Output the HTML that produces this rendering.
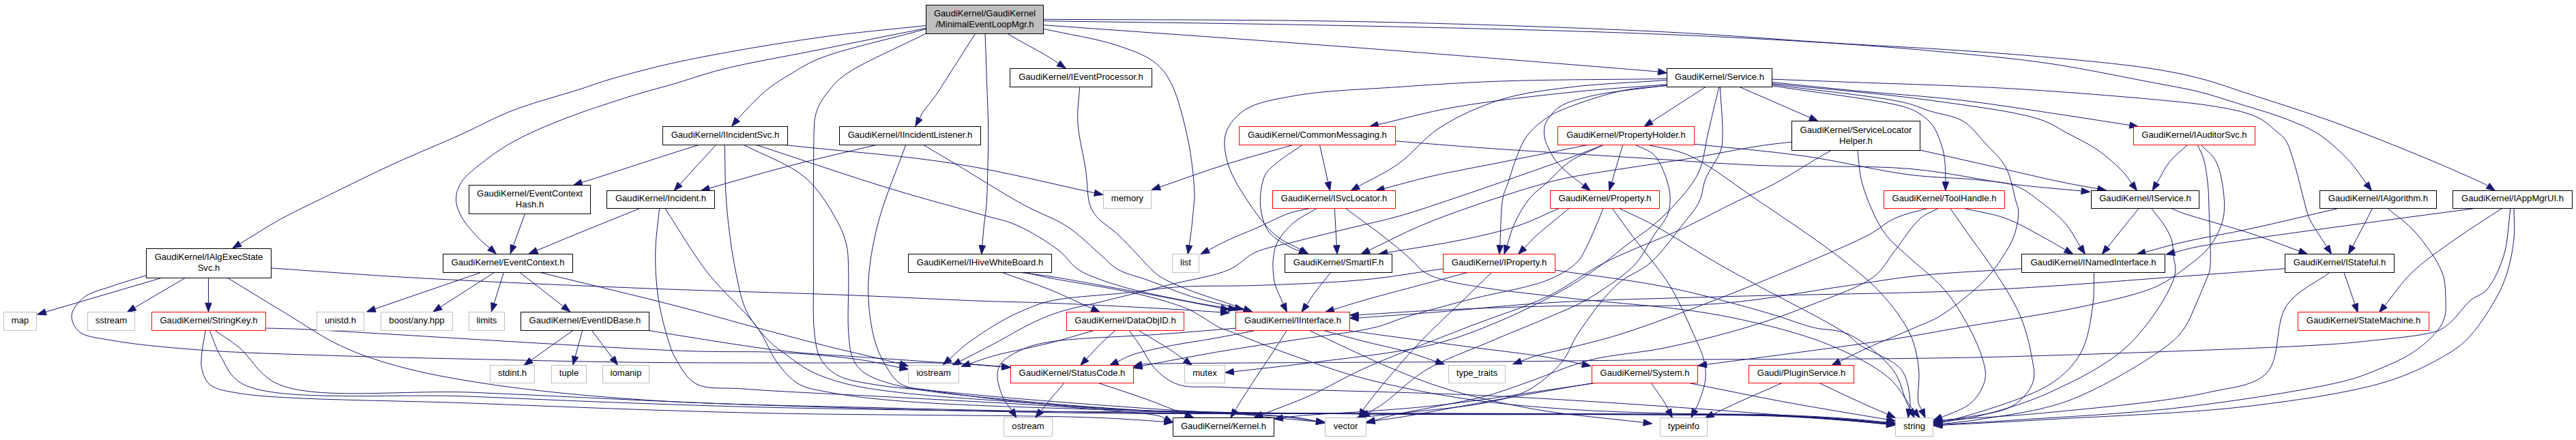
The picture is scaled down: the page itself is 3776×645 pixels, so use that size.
<!DOCTYPE html><html><head><meta charset="utf-8"><style>html,body{margin:0;padding:0;background:#fff;width:3776px;height:645px;overflow:hidden}svg{display:block}text{font-family:"Liberation Sans",Arial,Helvetica,sans-serif;font-size:13.1px;fill:#000;text-anchor:middle}</style></head><body>
<svg width="3776" height="645" viewBox="0 0 3776 645">
<g fill="none" stroke="#191970" stroke-width="1">
<path d="M1357,37.5C1304.7,43.3 1255.5,47.1 1200,55C1136.7,64 1054.2,77.9 997.5,90C955.8,98.9 916.5,109.7 890,117.5C874.2,122.2 868.1,124.9 852.5,130C826.8,138.4 781.1,150.4 750,162.5C722.7,173.2 701.7,185.4 675,197.5C644.7,211.2 609.9,225.1 577.5,240C544.6,255.1 509,272.8 479,287.5C453.6,300 430.9,310.4 409,322.5C388.7,333.7 370.8,345.7 351.6,357.4"/>
<path d="M1357,41.4C1304.7,51.9 1250.8,62.7 1200,73C1152,82.7 1099.3,91.5 1060,101.3C1030.9,108.6 1006.9,117.5 985,123.8C968.1,128.7 954.5,132 940,136.3C926.2,140.4 915.4,143.7 900,148.8C878.8,155.8 849.4,165.3 825,175C801.1,184.5 775.2,195.2 755,206.3C738.4,215.4 724.8,224.6 711.5,235C698.8,244.9 683.5,255.8 676.5,266.8C671.2,275.1 668.5,283.8 668.5,292.3C668.5,300.8 672,309.2 676.5,317.7C682.1,328.3 694.2,341.4 702,349.6C707.6,355.5 712.5,358.9 717.8,363.5"/>
<path d="M1357,42.6C1304.7,57.2 1235.6,71.9 1200,86.3C1180.4,94.2 1168.9,102.6 1156.4,110C1146.6,115.8 1138.5,120.8 1130.9,126.4C1124.1,131.4 1119.3,135.6 1112.7,141.8C1104,150 1088.1,166.8 1083.6,171.8C1082.1,173.4 1081.8,174 1080.9,175.1"/>
<path d="M1529.5,36.7C1679.7,47.5 1829.9,57.8 1980,69.2C2130.1,80.6 2419.2,103.9 2430,105.1C2430.4,105.1 2430.4,105.2 2430.6,105.2"/>
<path d="M1529.5,42.3C1564.6,50.1 1605.6,56.2 1634.8,65.7C1656.8,72.9 1676.6,79.6 1690.7,90.1C1701.9,98.5 1708.4,106.4 1715.7,120C1726.9,140.8 1736.1,179.4 1742,208C1747.4,234.3 1750.6,269.3 1751,285C1751.2,291.9 1750.5,293.9 1750,300C1749.2,309.7 1747.6,326.6 1746.3,337.5C1745.3,345.9 1744.2,352.4 1743.1,359.8"/>
<path d="M769.4,313.5L752.5,360"/>
<path d="M1429.5,49.5C1416.6,69.7 1401.7,93.2 1390.9,110C1383.2,122 1377.6,131.4 1370.9,140.9C1364.9,149.4 1356.7,158.3 1352.7,164.5C1350.3,168.2 1349.4,170.6 1347.8,173.7"/>
<path d="M1477.3,49.5C1482.3,52.5 1486.1,54.8 1492.4,58.4C1502.9,64.4 1523.5,75.2 1534.3,81.7C1541.4,86 1545.8,89.2 1551.6,93"/>
<path d="M1529.5,28.3C1679.7,29.3 1829.9,28.4 1980,31.4C2130.1,34.4 2299.1,39.9 2430,46.3C2531.5,51.3 2623.1,59.1 2700,63.8C2757.3,67.3 2800,69.2 2850,72.5C2900,75.8 2950,79.2 3000,83.8C3050,88.4 3108.7,93.7 3150,100C3179.4,104.5 3200.2,108.6 3225,115C3250.2,121.5 3271.9,129.7 3300,138.8C3336.2,150.6 3380.7,164.3 3423.8,180C3471.9,197.5 3534.3,222.8 3575,240C3602.9,251.8 3638.6,267.8 3645,271.3C3646.1,271.9 3646.2,272.1 3646.8,272.5"/>
<path d="M1529.5,30.7C1679.7,33 1829.9,34.5 1980,37.7C2130.1,40.9 2299.1,44.7 2430,50C2531.5,54.1 2623.2,59.2 2700,64.3C2757.3,68.1 2800,71.6 2850,76.3C2900,81 2950.1,85.2 3000,92.5C3050.1,99.8 3108.6,112.1 3150,120C3179.3,125.6 3202.6,129.4 3225,135C3243.5,139.6 3256.5,144.3 3275,150C3298,157.2 3330.1,166.1 3352.5,175C3370.5,182.1 3385,187.6 3400,197.5C3416,208.1 3432.9,224.3 3445,237.5C3454.8,248.2 3460.8,258.7 3468.7,269.2"/>
<path d="M1444,49.5C1444.8,73 1445.7,96.5 1446.5,120C1447.3,143.4 1448.5,167.6 1448.7,190C1448.9,210.8 1448.3,230.9 1447.8,250C1447.4,267.4 1447.1,285.5 1446,300C1445.1,311.3 1443.4,320 1442.4,330C1441.4,340 1440.7,349.9 1439.8,359.8"/>
<path d="M1357.5,49C1317.7,69.3 1262,92.7 1238.2,110C1226.3,118.6 1221.1,125.5 1214.5,133.6C1208.6,140.7 1203.4,148.3 1200,155.5C1197.1,161.6 1195.6,167.7 1194.5,173.6C1193.5,179.1 1193.6,182.8 1193.3,190C1192.7,203.7 1192.7,228.6 1192.5,250C1192.3,274.8 1192.4,304.2 1192.4,330C1192.4,354.1 1192.3,375.4 1192.5,400C1192.7,427.5 1191,464.5 1193.8,487.5C1195.7,502.7 1196.6,514.4 1202.5,525C1208.1,535.1 1216.1,543.6 1227.5,550C1242.8,558.6 1268.1,561.3 1290,565C1313.7,569 1336.3,569.7 1365,572.5C1403.4,576.2 1450.6,580.9 1500,585C1560.1,590 1633.3,595.5 1700,600C1766.6,604.5 1862.9,607.4 1900,612C1914.5,613.8 1919.9,615.8 1929.9,617.6"/>
<path d="M1024,212.5C1008,217.6 992.7,222.3 976,227.7C957.6,233.6 934,241.3 918.2,246.5C907.1,250.1 900.1,252.5 890,255.7C878.4,259.4 865.1,263.6 852.6,267.6"/>
<path d="M1049.5,212.5L996.6,270.2"/>
<path d="M1062.2,212.5C1063.1,241.7 1062.5,269.9 1065,300C1067.7,332.3 1072.8,371.4 1078.8,400C1083.4,422 1086.5,440.5 1095,457.5C1103.1,473.6 1116.7,489 1127.5,500C1135.9,508.5 1143.2,513.2 1152.5,520C1163.6,528.1 1176.1,538.1 1190,545C1205,552.5 1221.4,557.7 1240,562.5C1262.3,568.2 1284.4,571.2 1315,575C1362.9,580.9 1437.1,585.4 1500,590C1565.3,594.8 1626.6,600.2 1700,603C1789.9,606.4 1892.8,605.3 2000,606C2123.8,606.8 2289.5,606.3 2400,607C2478.1,607.5 2544.8,607.3 2600,609C2639.1,610.2 2670.2,611.9 2700,614C2724.2,615.7 2743.8,617.9 2765.8,619.9"/>
<path d="M1090.6,212.5C1120.4,228.3 1156.7,240 1180,260C1200.3,277.5 1215.6,303.2 1226,322C1233.6,335.7 1238,346.9 1241,360C1243.9,372.9 1243.2,384.1 1243.8,400C1244.6,423.5 1241.9,464.5 1243.8,487.5C1245,502.7 1245.7,514.9 1250,525C1253.5,533.2 1257.4,539.2 1265,545C1276.1,553.5 1292.6,559.2 1315,565C1356.7,575.7 1437.1,581.7 1500,588C1565.3,594.5 1636,599.3 1700,603C1758.9,606.4 1827.9,606.5 1870,610C1895,612.1 1909.7,614.9 1929.5,617.4"/>
<path d="M1327.7,212.5C1314.6,249 1297.7,288.3 1288.5,322C1280.9,349.9 1276,376.8 1273.8,400C1272.1,418.4 1272.4,433.4 1273.8,450C1275.2,466.7 1278.3,485.6 1282.5,500C1285.8,511.5 1289.3,520.2 1295,530C1301.4,541 1308.8,555.4 1320,562.5C1331.8,570 1344,569 1365,572.5C1412.6,580.3 1511.2,592.2 1600,598C1715.6,605.5 1866.7,604.9 2000,606.5C2133.3,608.1 2289.5,606.8 2400,607.5C2478.1,608 2544.8,607.7 2600,609.5C2639.1,610.8 2670.2,612.8 2700,615C2724.2,616.7 2743.8,618.9 2765.8,620.9"/>
<path d="M966.6,305.5C964.6,327 961,348.2 960.7,370C960.4,392.2 961.7,415.6 965,437.5C968.2,458.9 974.9,484 980,500C983.3,510.4 984.9,516.2 990,525C996.8,536.7 1005.8,554.7 1020,562.5C1037.2,571.9 1060,567.6 1090,570C1143.7,574.4 1236.9,578 1315,582.5C1399.7,587.3 1509,592.4 1580,598C1627.9,601.8 1683.9,605.6 1700,610C1704.3,611.2 1705.2,612.4 1707.8,613.6"/>
<path d="M974.8,305.5C995.7,337 1014.6,370.6 1037.5,400C1059.8,428.7 1092,455.2 1110,480C1123.5,498.6 1128.9,518 1140,532.5C1149.3,544.6 1157.9,555.4 1170,562.5C1182.7,569.9 1196.9,571.4 1215,575C1241.6,580.3 1273,584 1315,587.5C1385.6,593.5 1496.9,596.8 1600,600C1722,603.7 1866.7,605.7 2000,607C2133.3,608.3 2289.5,607.3 2400,608C2478.1,608.5 2544.8,608.1 2600,610C2639.1,611.4 2670.2,613.8 2700,616C2724.2,617.8 2743.8,619.9 2765.8,621.9"/>
<path d="M397.5,393C465,397.6 523.8,402.4 600,406.8C698.7,412.4 830.2,418.1 940,422.5C1043.1,426.6 1150.1,429 1240,432.5C1313.4,435.3 1384.8,439.3 1440,441.3C1479,442.7 1501.3,442.7 1540,444.3C1593.4,446.4 1685.5,451.3 1730.9,453.9C1756.1,455.4 1770.1,456.5 1789.6,457.8"/>
<path d="M792.5,399.6C861.7,416.6 942.2,435.7 1000,450.7C1041.7,461.5 1071,470.3 1107.5,480C1145.2,490 1188.8,501.6 1222.5,510C1248.8,516.5 1275.2,522.2 1293,526.6C1303.9,529.3 1310.6,531.1 1319.4,533.3"/>
<path d="M951,484.5C967.3,487.2 979.2,489.3 1000,492.5C1036.4,498.2 1103.6,509.5 1150,514.7C1189.8,519.2 1230.2,521.1 1261.4,523.4C1284,525 1300.9,526 1320,527.3C1338.4,528.6 1356.7,530 1374,531.1C1389.9,532.1 1404.5,532.5 1420,533.5C1436,534.6 1452.4,536.1 1468.5,537.5"/>
<path d="M214.5,403.8C197.2,409.2 178.6,414.2 162.5,420C148.2,425.1 132.3,428.3 122.5,436.3C114.1,443.1 105.6,453.8 105,462.5C104.4,470.5 109.3,480.4 116.3,486.3C125.8,494.3 143.4,495.1 163,498.8C195.2,504.8 244.9,509.4 292.6,513C350.9,517.4 420.3,519 487.6,521.3C559.9,523.7 637.2,525.2 712.7,526.9C789.3,528.6 865.7,530.4 944,531.3C1024.7,532.2 1112.2,531.8 1190,532C1260.1,532.2 1338.6,530.8 1390,532.5C1422.3,533.6 1442.5,535.9 1468.7,537.7"/>
<path d="M236.3,407.5L66.8,457.4"/>
<path d="M271.3,407.5L197.3,451"/>
<path d="M305.5,407.5L305.5,444.2"/>
<path d="M333.8,407.5C362.5,425 391.9,443.1 420,460C446.7,476.1 471.3,493.7 498.5,506.5C525.2,519.1 550.2,527.6 581.4,536.3C619.8,547 662.6,554.9 712.7,562.5C778.8,572.5 858.5,580.4 944,586.2C1049.8,593.4 1177.9,594.8 1300,598C1429.4,601.4 1566.7,604.1 1700,605.5C1833.3,606.9 1976.2,606.1 2100,606.5C2207.2,606.8 2310.1,606.9 2400,607.5C2473.4,608 2544.8,607.6 2600,609.5C2639.1,610.9 2670.2,613.2 2700,615.5C2724.2,617.4 2743.8,619.7 2765.8,621.8"/>
<path d="M704.5,399.6L549.6,452.8"/>
<path d="M724.4,399.6C709.6,409.1 693.8,419.1 680,428C667.8,435.8 657.1,442.7 645.7,450.1"/>
<path d="M738.3,399.6L724.2,444.8"/>
<path d="M762.2,399.6L825.7,449.1"/>
<path d="M938,305.5C908.7,317.3 876.9,330 850,341C827.2,350.3 808,358.4 786.9,367.1"/>
<path d="M839.8,484.5L778.4,528.1"/>
<path d="M853.7,484.5L843.2,522.7"/>
<path d="M867.6,484.5L897.7,524.8"/>
<path d="M389.5,481C406.3,481.5 414.1,481.4 440,482.5C526.2,486.2 872.6,509.5 1000,514.3C1065.9,516.8 1103.8,514.4 1150,517C1189.9,519.2 1230.4,522.9 1261.4,527.4C1283.9,530.7 1300,535.1 1319.2,539"/>
<path d="M1840.9,484.3C1820.6,488.2 1800.7,492.3 1780,496C1758.7,499.8 1735.7,502.8 1715,507C1695.8,510.9 1674,515.2 1660,520C1650.8,523.2 1645.3,526.8 1637.9,530.2"/>
<path d="M1886.4,484.3C1879.3,495.4 1872.5,506.1 1865,517.5C1857,529.6 1848.1,542.7 1840,555C1832.3,566.8 1822.8,581.5 1817.5,590C1814.5,594.9 1812.9,597.7 1810.6,601.5"/>
<path d="M1919.1,484.3C1944.4,496.2 1972.9,509.9 1995,520C2011.9,527.7 2022.7,532.9 2040,540C2062.7,549.3 2089.8,560.9 2120,570C2157.8,581.4 2204.3,591.9 2250,600C2300.2,608.8 2356.1,613 2409.2,619.4"/>
<path d="M1939.6,484.3C1959.7,489.7 1979.9,495.5 2000,500.6C2020,505.7 2041.5,509.7 2060,515C2076.3,519.6 2090.2,525 2105.3,530"/>
<path d="M1978.4,484.7C1985.6,485.7 1989.6,486.3 2000,487.8C2027.5,491.6 2102.8,501.7 2150,508C2192.2,513.7 2238.8,518.8 2270,524C2290.1,527.4 2303,530.6 2319.5,534"/>
<path d="M1811.2,481.1C1774.1,484.1 1740.4,487 1700,490C1651.5,493.6 1575.4,495.2 1540,501C1522,504 1512.2,506.2 1500,511.6C1488.3,516.7 1474.1,524.2 1468,532C1463.7,537.5 1462.3,543.1 1462,550C1461.7,559.1 1466,572.9 1470,582C1473.4,589.7 1478.6,595.1 1483,601.7"/>
<path d="M1560,561.5C1553.3,569.3 1546.1,577.7 1540,585C1534.8,591.2 1530.5,596.7 1525.7,602.5"/>
<path d="M1610,561.5C1633.3,569.3 1657.8,577 1680,585C1700.4,592.4 1718.7,600.2 1738.1,607.7"/>
<path d="M1635,484.3C1628.3,490.4 1621.7,495.9 1615,502.5C1607.6,509.8 1600.1,518.3 1592.6,526.2"/>
<path d="M1603.8,484.3C1582.5,490.4 1558.9,497.7 1540,502.5C1525.2,506.3 1513.7,508.5 1500,511.6C1485.4,514.9 1468.9,518.1 1455,522C1442.8,525.4 1432.4,529.5 1421.2,533.2"/>
<path d="M1668.8,484.3C1684.2,493.7 1702.5,504.3 1715,512.5C1723.8,518.3 1729.7,522.9 1737.1,528.1"/>
<path d="M1655,484.3C1660,491.2 1664.5,497 1670,505C1677.4,515.6 1684.9,532.5 1695,542.5C1704.3,551.8 1714.2,559.4 1727.5,563.8C1744.4,569.4 1760.2,566.1 1790,567.5C1864.3,570.9 2056.5,574.2 2180,580C2292,585.3 2398.3,592.8 2500,600C2592.7,606.6 2677.2,614 2765.7,621"/>
<path d="M1468.8,399.4C1492.5,407.9 1517.4,415.9 1540,425C1561.2,433.6 1580.5,443.2 1600.8,452.3"/>
<path d="M1496,399.4C1510.7,401.4 1522,402.5 1540,405.3C1568.7,409.8 1612.2,418 1651.3,425.2C1695,433.3 1743.7,442.8 1789.8,451.6"/>
<path d="M1582.7,127.5C1581.7,144.7 1578.8,160.5 1579.8,179C1581,200.8 1588.5,228.4 1591.6,250C1594.2,268.1 1593.5,287.9 1597.5,300C1600,307.7 1602.5,311.5 1607.5,317.5C1614.8,326.3 1628.4,334.1 1640,345C1654.8,358.9 1677.4,385 1687.9,395C1692.7,399.6 1694.1,401.2 1699,404.5C1706.7,409.6 1717.3,414.6 1730.9,420.4C1753.5,430 1792.8,442 1823.7,452.8"/>
<path d="M1502,399.4C1514.7,402.2 1523.6,404.4 1540,407.7C1569.9,413.7 1631,422.2 1667.2,430.8C1694.7,437.3 1721.6,444.9 1738.8,452C1749.2,456.3 1754.8,460.4 1762.7,465C1770.8,469.7 1780,476.6 1787,480C1791.9,482.4 1793.7,482.4 1800,484.7C1816.8,490.9 1859.9,508.7 1892,520C1926.4,532.2 1960.7,544.7 2000,555C2045.6,566.9 2099.8,577.5 2150,585C2199.8,592.5 2249.9,596.5 2300,600C2349.9,603.5 2400,604.7 2450,606C2500,607.3 2555.1,606.6 2600,608C2636.7,609.2 2670.2,610.9 2700,613C2724.2,614.7 2743.8,616.9 2765.8,618.9"/>
<path d="M1108.9,212.5C1172.6,233.3 1241.1,257 1300,275C1350.1,290.4 1405.1,304.8 1440,315C1460.9,321.1 1472.9,322.4 1490,330C1510.2,338.9 1536.9,355.2 1552.5,367.5C1563.4,376.1 1569.4,386.8 1577.5,393C1583.7,397.7 1587.8,399.5 1595.7,403C1609,408.9 1630.1,416.1 1651.3,422C1678.7,429.6 1719.4,437.4 1746.8,442.7C1767.4,446.7 1782.9,448.8 1801,451.9"/>
<path d="M1354,212.5C1369.3,221.7 1381.7,229.1 1400,240C1426.9,256.1 1470,283.5 1500,300C1523.7,313 1545.4,319.6 1565,332.5C1583.6,344.8 1601.4,363.5 1615,375C1624.3,382.9 1628.9,389.4 1638.6,395C1650.6,401.9 1667,405 1683.2,410.9C1702.6,418 1725.4,428.1 1746.8,434.8C1767.9,441.4 1789.4,445.5 1810.7,450.9"/>
<path d="M2115.6,394C2077.1,399.3 2041.7,406 2000,410C1951.1,414.7 1888.3,416.8 1840,418.5C1800.2,419.9 1764.4,418.3 1730.9,420.4C1702.2,422.2 1680.1,426.1 1651.3,429.2C1617.3,432.9 1567.6,434.9 1540,441.1C1523.1,444.9 1512.7,449.6 1500,455C1487.8,460.2 1477.4,465.3 1465,472.5C1449.8,481.3 1429.2,494.9 1416,505C1406.3,512.5 1400,519.1 1392,526.2"/>
<path d="M2350,212.5C2333.3,218.9 2319.1,224.7 2300,231.8C2274.5,241.2 2239.2,253.6 2210.5,263.6C2183.9,272.9 2159.6,281.3 2133.5,290C2106.7,299 2078.1,309.1 2051.6,316.6C2027.1,323.6 2004.5,328 1980,334C1954.1,340.4 1924.7,347.4 1900,353.8C1878.5,359.4 1857.1,362.2 1840,370C1825.4,376.6 1818.3,387.9 1802.4,395C1780,405 1744.8,409.8 1715,417.3C1683.9,425.1 1648.5,433.9 1619.5,441.1C1595.2,447.1 1571.4,451.4 1552.5,457.5C1538,462.1 1528.8,466.1 1515,472.5C1497.1,480.9 1473.9,495 1455,505C1438.2,513.9 1423.1,521.4 1407.1,529.6"/>
<path d="M1920,305.5C1910,307.8 1901.1,308.8 1890,312.5C1875.2,317.5 1855.8,328.1 1840,335C1826,341.1 1812.1,346.3 1800,352C1789.6,356.9 1780.9,361.8 1771.4,366.7"/>
<path d="M1930,305.5C1918.3,312.8 1904.8,318.8 1895,327.5C1885.9,335.5 1877.3,345.5 1872.5,355C1868.4,363.1 1867.2,371.2 1866.3,380C1865.3,389.5 1866.5,402.7 1867.5,410C1868.1,414.3 1868.6,416 1870,420C1872.3,426.7 1877.5,437.2 1881.2,445.8"/>
<path d="M1956.3,305.5L1959.3,359.7"/>
<path d="M1972.5,305.5C1992,320 2013.9,335.5 2031,349C2044.9,360 2057.8,370.8 2068,380C2075.7,386.9 2079.9,393.9 2087.5,398.8C2095.5,404 2103.7,406.6 2115,410C2131.9,415 2155,418.6 2180,422.5C2213.8,427.8 2254,431.6 2300,437C2362.3,444.3 2452.9,449.3 2520,462C2578,473 2635.2,486.9 2680,505C2715.3,519.3 2749.2,536.9 2770,555C2784.5,567.6 2793.8,587 2800,595C2802.7,598.5 2804,600 2806,602.5"/>
<path d="M2443,115.5C2362,116.7 2271.3,116.5 2200,119C2144,121 2100,124 2050,127.5C2000,131 1941.1,132.6 1900,140C1870.4,145.3 1842.8,149.4 1825,161C1811.6,169.7 1801.2,181.9 1797,195C1792.7,208.2 1795.5,224.4 1800,240C1805.5,259.1 1820.3,282 1832.5,300C1843.8,316.7 1856.5,333.6 1870,345C1881.5,354.7 1894.6,359.1 1906.9,366.1"/>
<path d="M2443,117.5C2395.3,121 2343.3,122.5 2300,128C2263.6,132.6 2231.8,136 2200,146C2168.5,155.9 2135.9,170.7 2110,187.5C2086.7,202.6 2070.7,225.3 2050,240C2031,253.5 2010.8,262.2 1991.1,273.3"/>
<path d="M2443,123.8C2397,127.5 2353.7,129.9 2305,135C2250.1,140.8 2181.4,148.3 2130,157.5C2088.9,164.8 2056.7,174.3 2020,182.6"/>
<path d="M2443,125C2405.3,130.4 2358.9,134.1 2330,141.3C2311.3,146 2296.2,149.5 2285,157.5C2275.8,164.1 2268.1,174.4 2265,182.5C2262.7,188.5 2263.3,194.8 2263.9,200C2264.4,204.3 2265.5,207 2267.3,211.4C2270,218 2274.7,227.8 2280,235C2285.5,242.4 2293,248.8 2300,255C2306.8,261 2314.1,266.1 2321.2,271.6"/>
<path d="M2443,125.5C2422,127.8 2401.7,128.1 2380,132.5C2355.9,137.4 2325.5,147.2 2305,155C2290.1,160.7 2278.8,164.9 2267.5,172.5C2256.4,180 2245.4,189.5 2237.7,200C2230.3,210.1 2226.4,222.5 2221.8,234C2217.3,245.3 2213.9,258.1 2210.5,268.2C2207.8,276.3 2204.9,280.5 2203,290C2199.7,306.5 2200.1,336.5 2198.7,359.7"/>
<path d="M2350,212.5C2333.3,220.8 2314.3,227.5 2300,237.5C2287.2,246.4 2277.5,258.9 2267.3,268.2C2258.6,276.1 2250.3,281.1 2242.9,290C2234.3,300.3 2225.8,315.1 2220,327.5C2214.9,338.5 2212.7,349.4 2209,360.4"/>
<path d="M2300,305.5C2284.2,318.7 2264.4,334.1 2252.5,345C2244.8,352.1 2240.5,357.2 2234.5,363.4"/>
<path d="M2285,305.5C2265.2,314 2247.2,323.6 2225.5,330.9C2200.7,339.2 2173.1,345.2 2143.7,351.4C2109.8,358.5 2070.2,364 2033.5,370.3"/>
<path d="M2626.6,208C2611.1,209.9 2598.6,211 2580,213.8C2552,218 2514.5,225.9 2475,232.5C2424.1,241.1 2338.2,252.5 2300,260.2C2281.2,264 2274.8,265.8 2258.2,270.5C2233.2,277.5 2195,289.7 2165,300C2136.5,309.8 2109,319.6 2082.3,330.9C2056.2,341.9 2031.8,355 2006.6,367"/>
<path d="M2327,212.5C2284.7,221 2239.8,230 2200,238C2164.7,245.1 2130.4,251 2100,258C2074.1,263.9 2052.5,270.3 2028.7,276.4"/>
<path d="M2378.8,212.5L2362.5,267.2"/>
<path d="M1934.5,212.5L1946.7,267.1"/>
<path d="M1895,212.5C1863.3,221.7 1832,229.9 1800,240C1767,250.4 1733.3,262.8 1700,274.2"/>
<path d="M1150,212.5C1233.3,221.7 1321.1,227.4 1400,240C1471.9,251.4 1536.3,268.5 1604.5,282.8"/>
<path d="M2045.5,206.8C2089.1,210.2 2126.9,213.5 2176.4,217C2241,221.6 2329.5,226.9 2400,231.3C2463.2,235.3 2517,239.8 2580,242.5C2649.6,245.5 2733.8,241.8 2800,247.5C2854.9,252.2 2904.9,264.4 2950,270C2986.9,274.6 3017.4,276.7 3051.1,280"/>
<path d="M2500,127.5L2420.8,178.6"/>
<path d="M2550,127.5L2653.3,172.4"/>
<path d="M2597.5,116.1C2631.7,117.4 2658.3,118.4 2700,120C2765.1,122.5 2868.9,125.2 2950,130C3027,134.5 3122.6,142.4 3175,147.5C3203.2,150.2 3219.8,151.8 3240,155C3257.8,157.8 3276.3,160.9 3290,165C3299.9,167.9 3307.5,170.7 3315,175C3322,179.1 3327.9,184.9 3333.8,190C3339.5,194.9 3345.5,198.4 3350,205C3355.6,213.3 3358.5,225.3 3362.5,237.5C3367.4,252.8 3372.1,275 3376.3,290C3379.5,301.4 3380.9,310.7 3385,320C3388.9,329 3395.4,337.5 3400,345C3403.8,351.2 3407.1,356.1 3410.6,361.7"/>
<path d="M2597.5,120.5C2638.3,124.7 2680.3,129.3 2720,133C2757.6,136.5 2798.9,139.4 2830,142.4C2853,144.6 2866.4,145.8 2890,148.8C2924.1,153.1 2975,161 3015,167C3052,172.6 3086.2,178 3121.9,183.5"/>
<path d="M2597.5,122.5C2675,130.7 2759.9,137.3 2830,147.1C2888.5,155.3 2955,163.5 2990,175C3008.4,181.1 3016.4,187.8 3030,195C3044.6,202.7 3061.1,210.3 3075,220C3088.6,229.5 3103.7,243 3112.5,252.5C3118.2,258.6 3120.8,263.6 3124.9,269.2"/>
<path d="M2597.5,124C2661.7,132.7 2750.1,140.8 2790,150C2808.6,154.3 2816.1,158.7 2830,163.1C2845.1,167.9 2864,169.4 2877.5,177.5C2890.5,185.3 2899.6,198.8 2910,210C2920.4,221.3 2932.6,231.4 2940,245C2947.9,259.5 2951.7,283.2 2955,295C2956.8,301.4 2958.6,303.9 2958.8,310C2959.1,319.2 2956.4,333.8 2952.5,345C2948.5,356.4 2941.8,366.9 2935,377.5C2927.8,388.6 2921.2,398.6 2910,410C2894.1,426.3 2864.4,450.4 2845,462.5C2831.4,471 2822,473.5 2807.5,480C2787.8,488.8 2757.6,500.8 2737.5,510C2721.9,517.1 2710.2,523.3 2696.5,529.9"/>
<path d="M2597.5,125.7C2661.7,135.9 2756.3,146.3 2790,156.3C2802.6,160.1 2807.6,162.6 2815,167.5C2822.2,172.2 2828.8,178.1 2833.8,185C2838.9,192.2 2842.2,202 2845,210C2847.4,216.9 2848.9,222.7 2850,230C2851.3,238.4 2851.6,250.8 2851.8,257.5C2851.9,261.4 2851.8,263.6 2851.8,266.7"/>
<path d="M2520,127C2517.5,137.2 2515.1,146.8 2512.5,157.5C2509.7,169.3 2507.1,181.2 2503.8,195C2499.8,212.1 2497.8,235.5 2490,252.5C2482.6,268.5 2470.6,282 2459.4,295C2448.4,307.7 2436.3,319 2423.6,329.8C2410.8,340.8 2395.3,350.7 2382.7,360.4C2371.7,369 2363.8,376.3 2352,385C2337.1,395.9 2320.6,408 2300,420C2272.5,436 2233.8,455.7 2200,470C2167.1,483.9 2139,495.4 2100,505C2048.2,517.8 1968.3,525.5 1915,532.5C1874.6,537.8 1843.8,540.7 1808.2,544.8"/>
<path d="M2521.3,127C2522.5,149.7 2525.4,177.9 2525,195C2524.8,205.4 2525.3,210.9 2522.5,220C2518.7,232.6 2505.3,249 2500,262.5C2495.5,273.8 2496.2,284.3 2491.1,295C2485.1,307.4 2474.8,318.6 2464.5,331.8C2451.7,348.1 2436,370.4 2419.5,385C2404.3,398.5 2386,402.9 2370,417.5C2350,435.8 2326.7,468.9 2312.5,490C2302.5,504.9 2300.5,517.4 2290,530C2277.5,545 2258.6,562 2240,572C2221.8,581.8 2203.7,585 2180,590C2147.1,596.9 2093,601.2 2060,605C2036.8,607.6 2020.5,609.1 2000.7,611.1"/>
<path d="M2416.3,212.5C2435.9,217.5 2453.7,218.2 2475,227.5C2504.9,240.6 2540,268.9 2575,292.5C2614.6,319.2 2666.9,354.1 2700,380C2723.4,398.3 2740.7,411.5 2757.5,430C2774,448.2 2790.8,470.1 2800,490C2807.7,506.7 2810.5,523.2 2812.5,540C2814.5,556.5 2809.8,579.6 2812,590C2813.1,595.1 2815.2,597.2 2816.8,600.8"/>
<path d="M2483.5,211.3C2537.3,217.1 2591.8,221.2 2645,228.8C2697.3,236.3 2753.8,250.5 2800,256.3C2836.8,260.9 2871.7,260.5 2900,263.8C2921.1,266.3 2939.3,266.5 2955,272.5C2968.6,277.7 2978.4,286.3 2990,295C3002.6,304.5 3017.3,315.7 3027.5,327.5C3036.7,338.1 3042.1,350.3 3049.4,361.7"/>
<path d="M2397.5,212.5C2406.7,217.5 2417.5,219.5 2425,227.5C2434.2,237.2 2441.4,257.4 2445,270C2447.7,279.2 2448.4,287.1 2448.1,295C2447.8,302.2 2447,308.2 2444,315.4C2440,325 2430.6,335.2 2423.6,346.1C2415.7,358.3 2408.5,374 2399.1,385C2390.5,395 2381.3,401.5 2370,410C2355.9,420.6 2337,433.2 2320,442.5C2303.7,451.4 2289.2,456.7 2270,465C2244.4,476.1 2209.9,489.6 2180,502.5C2149.9,515.4 2116.1,526.7 2090,542.5C2067,556.4 2045.8,578.8 2030,590C2020.3,596.9 2013.9,600.3 2005.8,605.5"/>
<path d="M2814.5,220C2851.3,228.3 2889.1,236.9 2925,245C2959.2,252.7 2997.4,261.8 3025,267.5C3044.5,271.5 3058.3,273.6 3074.9,276.7"/>
<path d="M2685,220C2679.2,223.3 2675.2,225.5 2667.5,230C2652.3,238.8 2621.5,258.7 2600,270C2581.3,279.8 2566,285.5 2546.3,295C2521.8,306.8 2494.1,322 2464.5,335.9C2430.2,352 2386,367.5 2352,385C2322,400.4 2300.6,418.9 2270,433.8C2234.4,451.1 2192.2,463.4 2150,480C2102.7,498.6 2041.9,521.2 2000,540C1968.8,554 1946.1,568.4 1920,580C1896.1,590.7 1873.1,598.5 1849.7,607.7"/>
<path d="M2722.8,220.5C2725.2,237 2724.9,252.4 2730,270C2736.4,292 2749.2,322.5 2762,341C2772,355.5 2783.3,363 2796,375C2811.1,389.4 2833.2,405.5 2847,421C2858.6,433.9 2866.2,445.4 2875,460C2885.1,476.8 2897.2,499.6 2903,517C2907.5,530.6 2912,542.9 2910,555C2907.9,567.3 2899.6,580.9 2890,590C2879.9,599.6 2856.5,607.2 2850,610C2848,610.9 2847.3,611 2846,611.5"/>
<path d="M3206.3,212.5C3197.5,220.8 3187.5,228.2 3180,237.5C3172.6,246.8 3167.7,258.2 3161.5,268.5"/>
<path d="M3226.3,212.5C3233.4,220 3242.2,225.5 3247.5,235C3253.8,246.3 3256.9,263.2 3258.8,277.5C3260.6,291.5 3261.8,306.4 3258.8,320C3255.7,333.9 3249,347.9 3240,360C3230.2,373.2 3214.4,384.7 3200.6,395C3187.1,405 3176.2,413.4 3158.2,421.1C3131.7,432.5 3093.2,440.4 3053.8,449.1C3003.4,460.2 2931.9,470.1 2880,479C2837.9,486.2 2811.7,491.5 2765.7,498.6C2695.9,509.3 2501.4,534.3 2501.4,534.3C2501.4,534.3 2501.5,534.3 2501.5,534.3"/>
<path d="M3221.3,212.5C3224.2,219.2 3227.7,224.6 3230,232.5C3233.1,242.9 3235,257.7 3236.3,270C3237.6,281.8 3237.5,290.6 3238,305C3238.7,328 3241.8,379.3 3239.3,395C3238.4,400.8 3237.3,401.7 3235.4,406.6C3232.1,415.4 3225.4,431.1 3220,443.3C3214.5,455.6 3209.9,469.3 3202.6,480C3195.7,490 3190.6,496.1 3177.8,506C3150.3,527.3 3081.6,568.8 3032.9,587C2988.9,603.5 2934.4,609.3 2900,615C2878.3,618.6 2864.5,619.3 2846.7,621.5"/>
<path d="M2878.8,305.5C2899.2,310.3 2921,313.1 2940,320C2957.9,326.5 2974.6,336.8 2990,345C3003.5,352.2 3015.1,359.1 3027.6,366.2"/>
<path d="M2825,305.5C2809.2,310.3 2792,313.3 2777.5,320C2763.8,326.3 2755.2,335.6 2740,343.8C2718.6,355.3 2690.5,366.8 2660,380C2620,397.3 2567.3,419.2 2520,437.5C2472.3,455.9 2415.7,477.2 2375,490C2346.1,499.1 2322.5,504.3 2300,510C2281.7,514.6 2262.9,518.1 2250,522C2241.6,524.5 2236.4,527 2229.5,529.4"/>
<path d="M2841.3,305.5C2832.5,310.3 2823.8,312.6 2815,320C2802.5,330.6 2789.3,352.6 2777.5,367.5C2767,380.8 2761.9,393.8 2747.5,405C2727.1,420.9 2690.4,432.7 2660,445C2628.1,457.9 2595.1,469.5 2560,480C2522.1,491.4 2479.3,501.9 2440,510C2402.7,517.7 2364.5,519.1 2330,528C2298.1,536.2 2267,550.7 2240,560C2218,567.6 2201.6,574.1 2180,580C2155.4,586.7 2124.8,591.9 2100,597C2078.6,601.4 2055.7,605.1 2040,609C2029.7,611.6 2023.1,614 2014.7,616.5"/>
<path d="M2858.8,305.5C2869.2,320.3 2879.7,335.4 2890,350C2900.1,364.2 2909.6,376.1 2920,392C2932.8,411.7 2950.3,437.8 2960,460C2968.4,479.3 2973.8,499.2 2977,517C2979.8,532.2 2984.2,547.2 2980,560C2975.6,573.3 2963.9,586.5 2950,595C2932.7,605.6 2899.1,608.4 2880,612C2866.9,614.4 2857.8,614.9 2846.7,616.3"/>
<path d="M3135,305.5L3089.3,362.5"/>
<path d="M3182.5,305.5C3188.3,307.8 3191.7,309.6 3200,312.5C3219.6,319.3 3269.7,332.5 3300,342.5C3325.7,351 3347,359.6 3370.5,368.1"/>
<path d="M3153.5,305.5C3160,314 3167.8,322.7 3172.9,330.9C3177.2,337.9 3180.9,344 3183.1,351.3C3185.3,358.7 3185.3,366.6 3186,375C3186.8,384.4 3190.9,392.8 3187.5,405C3180.7,429.6 3149.3,478 3119.9,506C3088.9,535.5 3042.5,557.8 3003.9,575.5C2969.2,591.4 2929.2,602.8 2900,610C2879.5,615.1 2864.4,615.9 2846.6,618.9"/>
<path d="M3427.5,305.5C3385,315.3 3340,326.4 3300,335C3264.7,342.6 3228.4,348.4 3200,355C3178.7,359.9 3162.9,364.7 3144.4,369.6"/>
<path d="M3477.5,305.5C3473.3,313.7 3469.5,321.4 3465,330C3459.9,339.8 3454,350.8 3448.5,361.2"/>
<path d="M3500,305.5C3513.3,317 3527.6,325.9 3540,340C3554.5,356.5 3573,381.2 3580,400C3585.2,414 3584.6,428.3 3585,440C3585.3,449.1 3585.7,456.9 3583.6,464.5C3581.5,471.9 3578.2,478 3572.7,485C3564.8,495 3551.4,507 3537.3,516.4C3520.6,527.5 3496.3,537.5 3477.3,545C3461.1,551.5 3452.5,554.8 3430.9,560C3383.5,571.4 3278.7,587.7 3200,597C3118.5,606.6 3015.2,611.6 2950,616C2908.1,618.9 2881.2,620.2 2846.8,622.2"/>
<path d="M3627.5,305.5C3585,311.2 3547.3,316.1 3500,322.5C3440.8,330.5 3351.6,342.6 3300,350C3267.3,354.7 3240.7,357.9 3220,362C3206.7,364.6 3198.3,367.3 3187.4,370"/>
<path d="M3667.5,305.5C3645,320.3 3622,334.3 3600,350C3577.8,365.8 3553.1,382.4 3535,400C3519.2,415.3 3508.7,432.1 3495.6,448.1"/>
<path d="M3685,305.5C3685,320.3 3686.5,334.8 3685,350C3683.4,366.3 3679.9,384.5 3675,400C3670.5,414.3 3665.3,425.9 3657.3,440C3647.1,457.9 3631,482.6 3616.3,497.3C3604.3,509.3 3593.9,515.6 3578.2,524.5C3556.6,536.7 3530.3,549.8 3496.4,560C3445.7,575.3 3372.6,586.1 3300,595C3210.8,605.9 3083.4,610 3000,615C2940.4,618.6 2897.9,620.5 2846.8,623.3"/>
<path d="M2963.3,393.8C2913.9,397.1 2861.2,399 2815,403.8C2774.2,408 2742.6,414 2700,420C2646.7,427.5 2585.1,440 2520,445C2443.7,450.9 2345.3,446.9 2270,448.8C2207.9,450.4 2150.5,452.5 2100,455C2059.3,457 1990,461.8 1990,462C1990,462 1990.8,462 1991.2,462"/>
<path d="M3069.5,398.8C3068.9,415.2 3070.2,430.3 3067.7,448C3064.6,469.3 3061.1,497.9 3050,517.5C3039.4,536.2 3025.6,550.2 3003.9,564C2970.6,585.2 2881,610.4 2859,616C2852.7,617.6 2850.8,617.3 2846.6,618"/>
<path d="M3349,393.8C3299.3,397.5 3257.9,400.8 3200,405C3119.3,410.8 3013.9,420.1 2910,425C2789.7,430.7 2635.6,431.5 2520,435C2427.4,437.8 2345.3,439.3 2270,443.8C2207.8,447.5 2150.5,454 2100,458C2059.4,461.2 1990,466 1990,466.3C1990,466.3 1990.8,466.3 1991.2,466.3"/>
<path d="M3435.8,399L3451.9,445.9"/>
<path d="M3415.5,399C3394.2,415.3 3367,425.7 3351.7,448C3334.4,473.2 3343.3,525.3 3322.8,546.5C3303.5,566.5 3272.4,567.2 3235.8,575.5C3176.9,588.9 3069.8,598.1 3000,605C2944.4,610.5 2863.1,614.3 2850,616C2848,616.3 2847.7,616.4 2846.6,616.6"/>
<path d="M2151.8,399.3C2101.2,412.9 2035.7,429.8 2000,440C1980.4,445.6 1969.8,449.2 1954.7,453.8"/>
<path d="M2279.4,396C2334.6,404.4 2391.4,410.3 2445,421.3C2496.5,431.9 2555.9,448.7 2595,460C2620.4,467.3 2637.4,474.9 2657.5,480C2675.6,484.6 2692.6,481.9 2710,490C2731.8,500.1 2760.7,523.5 2775,542.5C2786.2,557.4 2790.3,579.8 2795,590C2797.3,595 2798.6,597.3 2800.4,601"/>
<path d="M2363.3,305.5C2373.2,319 2382.8,332.8 2392.9,346.1C2402.9,359.3 2413.9,372 2423.6,385C2432.9,397.5 2441.3,407.8 2450,422.5C2461.1,441.3 2474,470.7 2482.5,490C2488.8,504.2 2494.7,515.8 2497.5,527.5C2499.8,537.2 2500.9,545.4 2500,555C2499,566.1 2493.2,581.7 2490,590C2488.1,594.8 2486.4,597.4 2484.5,601.1"/>
<path d="M2373.5,305.5C2390.2,313.6 2404.6,319.5 2423.6,329.8C2449.9,344 2488.8,369.6 2515.6,385C2536,396.7 2547.7,402.8 2570,415C2605.4,434.4 2683.8,473.6 2707.5,490C2716.6,496.3 2717,499.3 2725,505C2739.1,515.2 2775.3,526.3 2787.5,542.5C2797.5,555.8 2799.4,580.1 2800,590C2800.3,594.5 2799.1,596.5 2798.7,599.8"/>
<path d="M2336.3,561.3C2290.9,569.2 2246.5,576.8 2200,585C2151.2,593.6 2082.6,606.8 2050,612C2034.3,614.5 2026.7,615.2 2015.1,616.8"/>
<path d="M2340,561.3C2260,572.5 2176.5,586.8 2100,595C2030.4,602.5 1931.9,606.7 1900,610C1889.9,611 1886.8,611.7 1880.2,612.6"/>
<path d="M2420,561.3C2426.7,570.9 2435.6,582.5 2440,590C2442.7,594.5 2443.7,597.4 2445.6,601.2"/>
<path d="M2475,561.3C2523.3,570.9 2571.5,581.1 2620,590C2668.5,598.9 2717.3,606.6 2765.9,614.9"/>
<path d="M2612.5,561.3C2590.8,570.9 2566.1,581.6 2547.5,590C2533.5,596.4 2523,601.5 2510.8,607.2"/>
<path d="M2666.3,561.3C2686.7,570.9 2709.3,581.7 2727.5,590C2742,596.6 2753.7,601.6 2766.8,607.3"/>
<path d="M301.3,484.5C299.3,496.9 296.1,511.2 295.4,521.7C294.9,529.3 294.3,535 296,541.6C297.9,548.9 300.6,557.9 307.3,563.5C316.4,571.1 329.2,572.9 351,576.6C411.2,586.7 577.3,586.7 697,591.3C826.2,596.3 958.4,601.8 1100,605.2C1257.7,609 1495.3,608.2 1600,612C1648,613.7 1696.6,617.7 1704.8,618.2C1705.9,618.3 1706,618.3 1706.6,618.3"/>
<path d="M307.3,484.5C312.6,496.9 315.8,509.4 323.2,521.7C331.7,535.8 336.1,552.9 357,563.5C409.5,590.3 578.8,576.1 697,581.4C825.6,587.2 965.9,592.9 1100,596.5C1233.6,600.1 1376.2,601.4 1500,603C1607.2,604.4 1735.6,602.6 1800,606C1830.7,607.6 1845.8,610.3 1867.9,612.4C1888.9,614.4 1908.9,616.2 1929.5,618"/>
<path d="M315.2,484.5C327.1,492.9 338,499.3 351,509.8C368.4,523.9 378.8,551 408.7,563.5C465.9,587.4 592.9,570.9 697,575.4C820.1,580.7 958.4,588.4 1100,593.3C1257.7,598.7 1433.3,603.5 1600,605.6C1766.7,607.7 1954.5,605.7 2100,606C2212.7,606.2 2310.1,606.4 2400,607C2473.4,607.5 2544.8,607.2 2600,609C2639.1,610.3 2670.2,612.3 2700,614.5C2724.2,616.3 2743.8,618.7 2765.8,620.8"/>
<path d="M3680,305.5C3676.7,328.7 3676.5,354.2 3670,375C3664.2,393.6 3654.9,413.9 3645,425C3638,432.8 3629.6,433.4 3621.8,440C3611.9,448.3 3601.2,464.8 3591.8,472.7C3585.1,478.3 3582.2,481.5 3572.7,485C3552.4,492.6 3500.1,496.5 3469,500C3443.7,502.9 3432.8,503.7 3400,505.7C3319.3,510.6 3090.5,518.6 2980,521.8C2907.9,523.9 2869.6,524.5 2801.4,525.4C2709.9,526.6 2583.4,526.3 2480,527.1C2383.4,527.9 2307.9,529.1 2200,530C2052.3,531.3 1691.2,531.9 1675,533.8C1674.2,533.9 1674.2,534 1673.8,534.1"/>
<path d="M2186.6,399.3C2174.4,411.2 2164,421.3 2150,435C2131,453.5 2103.6,478.4 2083,500C2063.9,520 2045,542.1 2030,560C2018.4,573.9 2003.9,592.2 2000,598C1998.9,599.6 1998.8,600.1 1998.2,601.2"/>
<path d="M2350,305.5C2347.3,312.2 2345.1,318 2341.8,325.7C2337.3,336.2 2331.1,351.9 2325.4,362.5C2320.8,371.1 2318.2,378.1 2311.1,385C2301.6,394.3 2288,402.5 2270,410C2241.1,422.1 2187.1,430.2 2150,440C2117.8,448.5 2084.8,457.4 2060,465C2042.3,470.4 2033.7,475.5 2015,480C1985.7,487.1 1937.9,492.1 1900,498C1862.9,503.8 1827,508.7 1790,515C1752,521.4 1682.2,534.8 1675,536.3C1674.3,536.5 1674.2,536.5 1673.8,536.6"/>
<path d="M1284,212.5C1239.3,223.3 1192.4,233.9 1150,245C1111.3,255.1 1076.4,265.7 1039.6,276"/>
<path d="M1908.9,212.5C1895.9,221.7 1879.8,231.5 1870,240C1863.2,245.9 1858,249.2 1854.3,256.8C1849.2,267.3 1846.5,286 1847.5,300C1848.5,313.7 1852.1,329.3 1860,340C1867.9,350.7 1886.7,359.6 1895,364C1899.2,366.2 1901.7,366.6 1905.1,367.9"/>
<path d="M1950.5,399.5C1943,409 1934.3,419.4 1928,428C1923,434.8 1919.5,440.6 1915.2,446.9"/>
</g><g fill="#191970" stroke="#191970" stroke-width="1">
<path d="M340.7,364L349.2,353.3L354.1,361.4Z"/>
<path d="M727.4,372L714.7,367.1L720.9,360Z"/>
<path d="M1072.7,185L1077.2,172.1L1084.5,178.1Z"/>
<path d="M2443.3,107L2430,109.8L2431.3,100.5Z"/>
<path d="M1741.3,372.5L1738.5,359.2L1747.8,360.5Z"/>
<path d="M748.1,372L748.1,358.4L756.9,361.6Z"/>
<path d="M1341.8,185L1343.7,171.5L1352,175.9Z"/>
<path d="M1562.3,100L1549,96.9L1554.2,89.1Z"/>
<path d="M3657.5,279.5L3644.2,276.4L3649.4,268.5Z"/>
<path d="M3476.3,279.5L3464.9,272L3472.4,266.4Z"/>
<path d="M1438.7,372.6L1435.1,359.4L1444.5,360.3Z"/>
<path d="M1942.5,620L1929.1,622.3L1930.8,613Z"/>
<path d="M840.4,271.5L851.2,263.1L854,272.1Z"/>
<path d="M988,279.6L993.2,267L1000.1,273.3Z"/>
<path d="M2778.5,621L2765.3,624.5L2766.2,615.2Z"/>
<path d="M1942.2,619L1928.9,622.1L1930.1,612.8Z"/>
<path d="M2778.5,622L2765.3,625.5L2766.2,616.2Z"/>
<path d="M1719.4,619L1705.8,617.9L1709.8,609.3Z"/>
<path d="M2778.5,623L2765.3,626.5L2766.2,617.2Z"/>
<path d="M1802.4,458.6L1789.3,462.5L1789.9,453.1Z"/>
<path d="M1331.8,536.5L1318.2,537.9L1320.6,528.8Z"/>
<path d="M1481.3,538.5L1468.2,542.1L1468.9,532.8Z"/>
<path d="M1481.5,538.5L1468.4,542.4L1469,533Z"/>
<path d="M54.5,461L65.5,452.9L68.1,461.9Z"/>
<path d="M186.3,457.5L194.9,447L199.7,455.1Z"/>
<path d="M305.5,457L300.8,444.2L310.2,444.2Z"/>
<path d="M2778.5,623L2765.3,626.5L2766.2,617.1Z"/>
<path d="M537.5,457L548.1,448.4L551.1,457.3Z"/>
<path d="M634.9,457L643.1,446.1L648.2,454Z"/>
<path d="M720.4,457L719.7,443.4L728.7,446.2Z"/>
<path d="M835.8,457L822.8,452.8L828.6,445.4Z"/>
<path d="M775.1,372L785.1,362.8L788.7,371.4Z"/>
<path d="M768,535.5L775.7,524.3L781.2,531.9Z"/>
<path d="M839.8,535L838.7,521.4L847.7,523.9Z"/>
<path d="M905.4,535L894,527.6L901.5,521.9Z"/>
<path d="M1331.8,541.5L1318.3,543.6L1320.2,534.4Z"/>
<path d="M1626.3,535.5L1636,525.9L1639.9,534.4Z"/>
<path d="M1804,612.5L1806.6,599.1L1814.6,603.9Z"/>
<path d="M2421.9,621L2408.6,624.1L2409.8,614.8Z"/>
<path d="M2117.5,534L2103.9,534.4L2106.8,525.5Z"/>
<path d="M2332,536.5L2318.5,538.6L2320.4,529.4Z"/>
<path d="M1490,612.4L1479,604.3L1486.9,599.1Z"/>
<path d="M1517.6,612.4L1522.1,599.5L1529.3,605.5Z"/>
<path d="M1750,612.4L1736.4,612.1L1739.8,603.4Z"/>
<path d="M1583.8,535.5L1589.2,523L1596,529.4Z"/>
<path d="M1409,537.2L1419.7,528.7L1422.6,537.6Z"/>
<path d="M1747.5,535.5L1734.3,531.9L1739.8,524.3Z"/>
<path d="M2778.5,622L2765.4,625.7L2766.1,616.3Z"/>
<path d="M1612.5,457.5L1598.9,456.6L1602.7,448Z"/>
<path d="M1802.4,454L1788.9,456.2L1790.7,447Z"/>
<path d="M1835.8,457L1822.2,457.2L1825.3,448.3Z"/>
<path d="M2778.5,620L2765.3,623.5L2766.2,614.2Z"/>
<path d="M1813.6,454L1800.2,456.5L1801.8,447.2Z"/>
<path d="M1823.1,454L1809.5,455.4L1811.8,446.3Z"/>
<path d="M1382.4,534.7L1388.9,522.7L1395.1,529.7Z"/>
<path d="M1395.7,535.5L1404.9,525.5L1409.2,533.8Z"/>
<path d="M1760,372.5L1769.2,362.5L1773.5,370.8Z"/>
<path d="M1886.3,457.5L1876.9,447.6L1885.5,443.9Z"/>
<path d="M1960,372.5L1954.6,360L1964,359.5Z"/>
<path d="M2814,612.5L2802.3,605.4L2809.7,599.6Z"/>
<path d="M1918,372.5L1904.6,370.2L1909.2,362.1Z"/>
<path d="M1980,279.6L1988.8,269.2L1993.5,277.4Z"/>
<path d="M2007.5,185.5L2018.9,178.1L2021,187.2Z"/>
<path d="M2331.3,279.5L2318.3,275.3L2324.1,267.9Z"/>
<path d="M2197.9,372.5L2194,359.4L2203.4,360Z"/>
<path d="M2205,372.5L2204.6,358.9L2213.5,361.8Z"/>
<path d="M2225.5,372.5L2231.1,360.1L2237.8,366.7Z"/>
<path d="M2020.9,372.5L2032.7,365.7L2034.3,375Z"/>
<path d="M1995,372.5L2004.5,362.8L2008.6,371.2Z"/>
<path d="M2016.3,279.6L2027.5,271.9L2029.9,281Z"/>
<path d="M2358.8,279.5L2358,265.9L2367,268.6Z"/>
<path d="M1949.5,279.6L1942.1,268.1L1951.3,266.1Z"/>
<path d="M1687.9,278.3L1698.5,269.7L1701.5,278.6Z"/>
<path d="M1617,285.4L1603.5,287.4L1605.4,278.2Z"/>
<path d="M3063.8,281.3L3050.6,284.7L3051.5,275.4Z"/>
<path d="M2410,185.5L2418.2,174.6L2423.3,182.5Z"/>
<path d="M2665,177.5L2651.4,176.7L2655.1,168.1Z"/>
<path d="M3417.5,372.5L3406.7,364.2L3414.6,359.2Z"/>
<path d="M3134.5,185.5L3121.1,188.2L3122.6,178.9Z"/>
<path d="M3132.5,279.5L3121.1,272L3128.7,266.4Z"/>
<path d="M2685,535.5L2694.5,525.7L2698.6,534.1Z"/>
<path d="M2851.8,279.5L2847.1,266.7L2856.5,266.7Z"/>
<path d="M1795.5,546.3L1807.7,540.2L1808.8,549.5Z"/>
<path d="M1988,612.4L2000.3,606.4L2001.2,615.8Z"/>
<path d="M2822,612.5L2812.5,602.7L2821.1,598.9Z"/>
<path d="M3056.3,372.5L3045.4,364.3L3053.4,359.2Z"/>
<path d="M1995,612.4L2003.2,601.5L2008.3,609.5Z"/>
<path d="M3087.5,279L3074.1,281.3L3075.8,272.1Z"/>
<path d="M1837.8,612.4L1848,603.3L1851.4,612.1Z"/>
<path d="M2834,616L2844.3,607.1L2847.6,615.9Z"/>
<path d="M3155,279.5L3157.5,266.1L3165.6,270.9Z"/>
<path d="M2488.8,536L2500.9,529.6L2502.1,538.9Z"/>
<path d="M2834,623L2846.1,616.8L2847.3,626.1Z"/>
<path d="M3038.8,372.5L3025.3,370.3L3030,362.1Z"/>
<path d="M2217.5,533.8L2227.9,525L2231.1,533.8Z"/>
<path d="M2002.4,620.2L2013.3,612L2016,621.1Z"/>
<path d="M2834,618L2846.1,611.7L2847.3,621Z"/>
<path d="M3081.3,372.5L3085.6,359.6L3093,365.5Z"/>
<path d="M3382.5,372.5L3368.9,372.5L3372.1,363.7Z"/>
<path d="M2834,621L2845.9,614.3L2847.4,623.5Z"/>
<path d="M3132,372.8L3143.2,365L3145.6,374.1Z"/>
<path d="M3442.5,372.5L3444.3,359L3452.6,363.4Z"/>
<path d="M2834,623L2846.5,617.5L2847.1,626.9Z"/>
<path d="M3175,373L3186.3,365.4L3188.5,374.5Z"/>
<path d="M3487.5,458L3492,445.1L3499.2,451.1Z"/>
<path d="M2834,624L2846.5,618.6L2847,628Z"/>
<path d="M1978.4,462L1991.2,457.3L1991.2,466.7Z"/>
<path d="M2834,620L2845.9,613.3L2847.4,622.6Z"/>
<path d="M1978.4,466.3L1991.2,461.6L1991.2,471Z"/>
<path d="M3456.1,458L3447.5,447.4L3456.4,444.4Z"/>
<path d="M2834,619L2845.7,612L2847.4,621.3Z"/>
<path d="M1942.5,457.5L1953.4,449.3L1956.1,458.3Z"/>
<path d="M2806,612.5L2796.2,603.1L2804.6,598.9Z"/>
<path d="M2478.9,612.6L2480.3,599L2488.8,603.2Z"/>
<path d="M2797,612.5L2794,599.2L2803.4,600.4Z"/>
<path d="M2002.4,618.5L2014.4,612.1L2015.7,621.4Z"/>
<path d="M1867.5,614.3L1879.6,608L1880.8,617.3Z"/>
<path d="M2451.3,612.6L2441.4,603.3L2449.8,599Z"/>
<path d="M2778.5,617L2765.1,619.5L2766.7,610.2Z"/>
<path d="M2499.2,612.6L2508.8,602.9L2512.8,611.4Z"/>
<path d="M2778.5,612.5L2764.9,611.6L2768.7,603Z"/>
<path d="M1719.4,619.2L1706.3,623L1707,613.6Z"/>
<path d="M1942.2,619.2L1929,622.7L1929.9,613.4Z"/>
<path d="M2778.5,622L2765.3,625.5L2766.2,616.1Z"/>
<path d="M1661.3,537L1672.7,529.5L1674.8,538.7Z"/>
<path d="M1992,612.4L1994.1,598.9L2002.3,603.5Z"/>
<path d="M1661.3,539.5L1672.7,532L1674.8,541.2Z"/>
<path d="M1027.3,279.5L1038.3,271.5L1040.9,280.6Z"/>
<path d="M1917,372.5L1903.4,372.3L1906.8,363.5Z"/>
<path d="M1908,457.5L1911.3,444.3L1919.1,449.5Z"/>
</g>
<rect x="1357.5" y="7.5" width="172" height="42" fill="#bfbfbf" stroke="#000000" stroke-width="1"/>
<text x="1443.5" y="24">GaudiKernel/GaudiKernel</text>
<text x="1443.5" y="40">/MinimalEventLoopMgr.h</text>
<rect x="1480.5" y="100.5" width="208" height="27" fill="#ffffff" stroke="#000000" stroke-width="1"/>
<text x="1584.5" y="116.6">GaudiKernel/IEventProcessor.h</text>
<rect x="2443.5" y="100.5" width="154" height="27" fill="#ffffff" stroke="#000000" stroke-width="1"/>
<text x="2520.5" y="116.6">GaudiKernel/Service.h</text>
<rect x="971.5" y="185.5" width="183" height="27" fill="#ffffff" stroke="#000000" stroke-width="1"/>
<text x="1063" y="201.6">GaudiKernel/IIncidentSvc.h</text>
<rect x="1230.5" y="185.5" width="207" height="27" fill="#ffffff" stroke="#000000" stroke-width="1"/>
<text x="1334" y="201.6">GaudiKernel/IIncidentListener.h</text>
<rect x="1816.5" y="185.5" width="229" height="27" fill="#ffffff" stroke="#ff0000" stroke-width="1"/>
<text x="1931" y="201.6">GaudiKernel/CommonMessaging.h</text>
<rect x="2283.5" y="185.5" width="200" height="27" fill="#ffffff" stroke="#ff0000" stroke-width="1"/>
<text x="2383.5" y="201.6">GaudiKernel/PropertyHolder.h</text>
<rect x="2626.5" y="177.5" width="188" height="43" fill="#ffffff" stroke="#000000" stroke-width="1"/>
<text x="2720.5" y="194.5">GaudiKernel/ServiceLocator</text>
<text x="2720.5" y="210.5">Helper.h</text>
<rect x="3127.5" y="185.5" width="178" height="27" fill="#ffffff" stroke="#ff0000" stroke-width="1"/>
<text x="3216.5" y="201.6">GaudiKernel/IAuditorSvc.h</text>
<rect x="687.5" y="271.5" width="178" height="42" fill="#ffffff" stroke="#000000" stroke-width="1"/>
<text x="776.5" y="288">GaudiKernel/EventContext</text>
<text x="776.5" y="304">Hash.h</text>
<rect x="889.5" y="279.5" width="158" height="26" fill="#ffffff" stroke="#000000" stroke-width="1"/>
<text x="968.5" y="295.1">GaudiKernel/Incident.h</text>
<rect x="1617.5" y="279.5" width="70" height="26" fill="#ffffff" stroke="#bfbfbf" stroke-width="1"/>
<text x="1652.5" y="295.1">memory</text>
<rect x="1865.5" y="279.5" width="180" height="26" fill="#ffffff" stroke="#ff0000" stroke-width="1"/>
<text x="1955.5" y="295.1">GaudiKernel/ISvcLocator.h</text>
<rect x="2272.5" y="279.5" width="160" height="26" fill="#ffffff" stroke="#ff0000" stroke-width="1"/>
<text x="2352.5" y="295.1">GaudiKernel/Property.h</text>
<rect x="2761.5" y="279.5" width="177" height="26" fill="#ffffff" stroke="#ff0000" stroke-width="1"/>
<text x="2850" y="295.1">GaudiKernel/ToolHandle.h</text>
<rect x="3065.5" y="279.5" width="158" height="26" fill="#ffffff" stroke="#000000" stroke-width="1"/>
<text x="3144.5" y="295.1">GaudiKernel/IService.h</text>
<rect x="3400.5" y="279.5" width="171" height="26" fill="#ffffff" stroke="#000000" stroke-width="1"/>
<text x="3486" y="295.1">GaudiKernel/IAlgorithm.h</text>
<rect x="3595.5" y="279.5" width="175" height="26" fill="#ffffff" stroke="#000000" stroke-width="1"/>
<text x="3683" y="295.1">GaudiKernel/IAppMgrUI.h</text>
<rect x="214.5" y="364.5" width="183" height="43" fill="#ffffff" stroke="#000000" stroke-width="1"/>
<text x="306" y="380.5">GaudiKernel/IAlgExecState</text>
<text x="306" y="396.5">Svc.h</text>
<rect x="649.5" y="372.5" width="190" height="27" fill="#ffffff" stroke="#000000" stroke-width="1"/>
<text x="744.5" y="388.6">GaudiKernel/EventContext.h</text>
<rect x="1331.5" y="372.5" width="210" height="27" fill="#ffffff" stroke="#000000" stroke-width="1"/>
<text x="1436.5" y="388.6">GaudiKernel/IHiveWhiteBoard.h</text>
<rect x="1718.5" y="372.5" width="39" height="27" fill="#ffffff" stroke="#bfbfbf" stroke-width="1"/>
<text x="1738" y="388.6">list</text>
<rect x="1883.5" y="372.5" width="157" height="27" fill="#ffffff" stroke="#000000" stroke-width="1"/>
<text x="1962" y="388.6">GaudiKernel/SmartIF.h</text>
<rect x="2115.5" y="372.5" width="164" height="27" fill="#ffffff" stroke="#ff0000" stroke-width="1"/>
<text x="2197.5" y="388.6">GaudiKernel/IProperty.h</text>
<rect x="2963.5" y="372.5" width="210" height="27" fill="#ffffff" stroke="#000000" stroke-width="1"/>
<text x="3068.5" y="388.6">GaudiKernel/INamedInterface.h</text>
<rect x="3349.5" y="372.5" width="160" height="27" fill="#ffffff" stroke="#000000" stroke-width="1"/>
<text x="3429.5" y="388.6">GaudiKernel/IStateful.h</text>
<rect x="5.5" y="457.5" width="48" height="27" fill="#ffffff" stroke="#bfbfbf" stroke-width="1"/>
<text x="29.5" y="473.6">map</text>
<rect x="128.5" y="457.5" width="69" height="27" fill="#ffffff" stroke="#bfbfbf" stroke-width="1"/>
<text x="163" y="473.6">sstream</text>
<rect x="222.5" y="457.5" width="167" height="27" fill="#ffffff" stroke="#ff0000" stroke-width="1"/>
<text x="306" y="473.6">GaudiKernel/StringKey.h</text>
<rect x="464.5" y="457.5" width="69" height="27" fill="#ffffff" stroke="#bfbfbf" stroke-width="1"/>
<text x="499" y="473.6">unistd.h</text>
<rect x="558.5" y="457.5" width="105" height="27" fill="#ffffff" stroke="#bfbfbf" stroke-width="1"/>
<text x="611" y="473.6">boost/any.hpp</text>
<rect x="687.5" y="457.5" width="52" height="27" fill="#ffffff" stroke="#bfbfbf" stroke-width="1"/>
<text x="713.5" y="473.6">limits</text>
<rect x="763.5" y="457.5" width="188" height="27" fill="#ffffff" stroke="#000000" stroke-width="1"/>
<text x="857.5" y="473.6">GaudiKernel/EventIDBase.h</text>
<rect x="1563.5" y="457.5" width="172" height="27" fill="#ffffff" stroke="#ff0000" stroke-width="1"/>
<text x="1649.5" y="473.6">GaudiKernel/DataObjID.h</text>
<rect x="1811.5" y="457.5" width="167" height="27" fill="#ffffff" stroke="#ff0000" stroke-width="1"/>
<text x="1895" y="473.6">GaudiKernel/IInterface.h</text>
<rect x="3368.5" y="457.5" width="192" height="27" fill="#ffffff" stroke="#ff0000" stroke-width="1"/>
<text x="3464.5" y="473.6">GaudiKernel/StateMachine.h</text>
<rect x="718.5" y="535.5" width="65" height="26" fill="#ffffff" stroke="#bfbfbf" stroke-width="1"/>
<text x="751" y="551.1">stdint.h</text>
<rect x="808.5" y="535.5" width="51" height="26" fill="#ffffff" stroke="#bfbfbf" stroke-width="1"/>
<text x="834" y="551.1">tuple</text>
<rect x="883.5" y="535.5" width="68" height="26" fill="#ffffff" stroke="#bfbfbf" stroke-width="1"/>
<text x="917.5" y="551.1">iomanip</text>
<rect x="1331.5" y="535.5" width="74" height="26" fill="#ffffff" stroke="#bfbfbf" stroke-width="1"/>
<text x="1368.5" y="551.1">iostream</text>
<rect x="1481.5" y="535.5" width="180" height="26" fill="#ffffff" stroke="#ff0000" stroke-width="1"/>
<text x="1571.5" y="551.1">GaudiKernel/StatusCode.h</text>
<rect x="1736.5" y="535.5" width="59" height="26" fill="#ffffff" stroke="#bfbfbf" stroke-width="1"/>
<text x="1766" y="551.1">mutex</text>
<rect x="2123.5" y="535.5" width="83" height="26" fill="#ffffff" stroke="#bfbfbf" stroke-width="1"/>
<text x="2165" y="551.1">type_traits</text>
<rect x="2333.5" y="535.5" width="155" height="26" fill="#ffffff" stroke="#ff0000" stroke-width="1"/>
<text x="2411" y="551.1">GaudiKernel/System.h</text>
<rect x="2563.5" y="535.5" width="154" height="26" fill="#ffffff" stroke="#ff0000" stroke-width="1"/>
<text x="2640.5" y="551.1">Gaudi/PluginService.h</text>
<rect x="1471.5" y="612.5" width="71" height="27" fill="#ffffff" stroke="#bfbfbf" stroke-width="1"/>
<text x="1507" y="628.6">ostream</text>
<rect x="1719.5" y="612.5" width="148" height="27" fill="#ffffff" stroke="#000000" stroke-width="1"/>
<text x="1793.5" y="628.6">GaudiKernel/Kernel.h</text>
<rect x="1942.5" y="612.5" width="60" height="27" fill="#ffffff" stroke="#bfbfbf" stroke-width="1"/>
<text x="1972.5" y="628.6">vector</text>
<rect x="2433.5" y="612.5" width="69" height="27" fill="#ffffff" stroke="#bfbfbf" stroke-width="1"/>
<text x="2468" y="628.6">typeinfo</text>
<rect x="2778.5" y="612.5" width="55" height="27" fill="#ffffff" stroke="#bfbfbf" stroke-width="1"/>
<text x="2806" y="628.6">string</text>
</svg></body></html>
